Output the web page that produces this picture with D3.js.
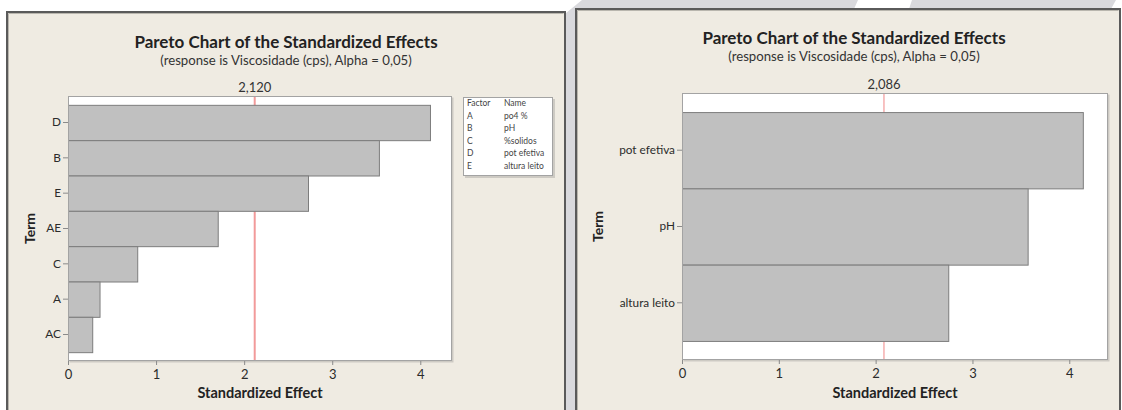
<!DOCTYPE html>
<html>
<head>
<meta charset="utf-8">
<script src="https://cdn.jsdelivr.net/npm/d3@7"></script>
<style>
  html, body { margin: 0; padding: 0; background: #ffffff; }
  svg { display: block; font-family: Lato, "Open Sans", sans-serif; }
</style>
</head>
<body>
<svg id="chart" width="1122" height="410"></svg>
<script>
// ---- Data ----
const leftTerms = ["D", "B", "E", "AE", "C", "A", "AC"];
const leftEffects = [4.11, 3.53, 2.725, 1.70, 0.786, 0.358, 0.275];
const leftCritical = 2.120;

const rightTerms = ["pot efetiva", "pH", "altura leito"];
const rightEffects = [4.14, 3.57, 2.75];
const rightCritical = 2.086;

const xTicks = [0, 1, 2, 3, 4];

const legendFactors = ["A", "B", "C", "D", "E"];
const legendNames = ["po4 %", "pH", "%solidos", "pot efetiva", "altura leito"];

const titleText = "Pareto Chart of the Standardized Effects";
const subtitleText = "(response is Viscosidade (cps), Alpha = 0,05)";
const xTitle = "Standardized Effect";
const yTitle = "Term";

// ---- Setup ----
const svg = d3.select("#chart");
const ptBR = d3.formatLocale({ decimal: ",", thousands: ".", grouping: [3], currency: ["", ""] });
const fmtCrit = ptBR.format(".3f");

const panelBg = "#efebe2";
const barFill = "#c0c0c0";
const barStroke = "#7d7d7d";
const textColor = "#2b2b2b";

// Window chrome behind the two panels
svg.append("rect").attr("width", 1122).attr("height", 410).attr("fill", "#ffffff");
svg.append("polygon")
  .attr("points", "582,0 858,0 854,9 576,9 576,410 566,410 566,13")
  .attr("fill", "#d9d9dd");
svg.append("polygon")
  .attr("points", "912,0 1116,0 1111,9 909,9")
  .attr("fill", "#d9d9dd");

function drawPanel(cfg) {
  const g = svg.append("g");

  // panel background and frame
  g.append("rect")
    .attr("x", cfg.panel.x).attr("y", cfg.panel.y)
    .attr("width", cfg.panel.w).attr("height", 420 - cfg.panel.y)
    .attr("fill", panelBg);
  g.append("path")
    .attr("d", `M${cfg.panel.x},420 V${cfg.panel.y} H${cfg.panel.x + cfg.panel.w} V420`)
    .attr("fill", "none").attr("stroke", "#5a5a5a").attr("stroke-width", 2);
  g.append("path")
    .attr("d", `M${cfg.panel.x + 1.5},420 V${cfg.panel.y + 1.5} H${cfg.panel.x + cfg.panel.w - 1.5}`)
    .attr("fill", "none").attr("stroke", "#b9b6ae").attr("stroke-width", 1);

  const p = cfg.plot;
  const x = d3.scaleLinear().domain([0, cfg.xMax]).range([p.left, p.right]);
  const y = d3.scaleBand().domain(cfg.terms).range([p.top, p.bottom])
    .paddingInner(0).paddingOuter(0.25);

  // titles
  g.append("text")
    .attr("x", cfg.titleX).attr("y", cfg.titleY)
    .attr("text-anchor", "middle").attr("font-size", 17).attr("font-weight", 700)
    .attr("fill", "#222").text(titleText);
  g.append("text")
    .attr("x", cfg.titleX).attr("y", cfg.titleY + 17)
    .attr("text-anchor", "middle").attr("font-size", 13.2)
    .attr("fill", "#333").text(subtitleText);

  // plot area with soft shadow
  g.append("rect")
    .attr("x", p.left + 1.5).attr("y", p.top + 1.5)
    .attr("width", p.right - p.left).attr("height", p.bottom - p.top)
    .attr("fill", "#cdcac3");
  g.append("rect")
    .attr("x", p.left).attr("y", p.top)
    .attr("width", p.right - p.left).attr("height", p.bottom - p.top)
    .attr("fill", "#ffffff");

  // reference line at the critical value (bars drawn over it)
  g.append("line")
    .attr("x1", x(cfg.critical)).attr("x2", x(cfg.critical))
    .attr("y1", p.top).attr("y2", p.bottom)
    .attr("stroke", "#f29a9a").attr("stroke-width", cfg.critWidth);
  g.append("text")
    .attr("x", x(cfg.critical)).attr("y", p.top - 4)
    .attr("text-anchor", "middle").attr("font-size", 13)
    .attr("fill", "#333").text(fmtCrit(cfg.critical));

  // bars
  g.selectAll("rect.bar")
    .data(cfg.terms.map((t, i) => ({ term: t, value: cfg.effects[i] })))
    .join("rect")
    .attr("class", "bar")
    .attr("x", x(0) + 0.5)
    .attr("y", d => y(d.term) + 0.5)
    .attr("width", d => x(d.value) - x(0))
    .attr("height", y.bandwidth())
    .attr("fill", barFill)
    .attr("stroke", barStroke)
    .attr("stroke-width", 1);

  // plot border
  g.append("rect")
    .attr("x", p.left + 0.5).attr("y", p.top + 0.5)
    .attr("width", p.right - p.left - 1).attr("height", p.bottom - p.top - 1)
    .attr("fill", "none").attr("stroke", "#a3a3a3").attr("stroke-width", 1);

  // x axis
  const xAxis = g.append("g")
    .attr("transform", `translate(0,${p.bottom})`)
    .call(d3.axisBottom(x).tickValues(xTicks).tickSize(4).tickPadding(5).tickFormat(d3.format("d")));
  xAxis.select(".domain").remove();
  xAxis.selectAll(".tick line").attr("stroke", "#8a8a8a");
  xAxis.selectAll(".tick text")
    .attr("font-size", 13).attr("fill", textColor).attr("font-family", "Lato, sans-serif");

  // y axis
  const yAxis = g.append("g")
    .attr("transform", `translate(${p.left},0)`)
    .call(d3.axisLeft(y).tickSize(5).tickPadding(2));
  yAxis.select(".domain").remove();
  yAxis.selectAll(".tick line").attr("stroke", "#8a8a8a");
  yAxis.selectAll(".tick text")
    .attr("font-size", 11.8).attr("fill", textColor).attr("font-family", "Lato, sans-serif");

  // axis titles
  g.append("text")
    .attr("x", (p.left + p.right) / 2).attr("y", 398)
    .attr("text-anchor", "middle").attr("font-size", 14.5).attr("font-weight", 700)
    .attr("fill", "#222").text(xTitle);
  g.append("text")
    .attr("transform", `translate(${cfg.termX},${(p.top + p.bottom) / 2}) rotate(-90)`)
    .attr("text-anchor", "middle").attr("dy", "0.35em")
    .attr("font-size", 14).attr("font-weight", 700)
    .attr("fill", "#222").text(yTitle);

  return g;
}

// Left panel: coded factors
const left = drawPanel({
  panel: { x: 7, y: 12, w: 558 },
  plot: { left: 68, right: 452, top: 96, bottom: 361 },
  xMax: 4.36,
  terms: leftTerms,
  effects: leftEffects,
  critical: leftCritical,
  critWidth: 2,
  titleX: 286, titleY: 48,
  termX: 30
});

// Factor legend
const lg = left.append("g");
lg.append("rect").attr("x", 465).attr("y", 99).attr("width", 90).attr("height", 79).attr("fill", "#cdcac3");
lg.append("rect").attr("x", 463.5).attr("y", 97.5).attr("width", 89).attr("height", 78)
  .attr("fill", "#ffffff").attr("stroke", "#a3a3a3");
const legendRows = [["Factor", "Name"]].concat(legendFactors.map((f, i) => [f, legendNames[i]]));
lg.selectAll("g.row").data(legendRows).join("g")
  .attr("class", "row")
  .attr("transform", (d, i) => `translate(0,${106 + i * 12.6})`)
  .each(function (d) {
    const r = d3.select(this);
    r.append("text").attr("x", 467).attr("font-size", 8.5).attr("fill", "#444").text(d[0]);
    r.append("text").attr("x", 504).attr("font-size", 8.5).attr("fill", "#444").text(d[1]);
  });

// Right panel: named factors
drawPanel({
  panel: { x: 576, y: 9, w: 544 },
  plot: { left: 682, right: 1108, top: 93, bottom: 360 },
  xMax: 4.40,
  terms: rightTerms,
  effects: rightEffects,
  critical: rightCritical,
  critWidth: 1.2,
  titleX: 854, titleY: 44,
  termX: 598
});
</script>
</body>
</html>
